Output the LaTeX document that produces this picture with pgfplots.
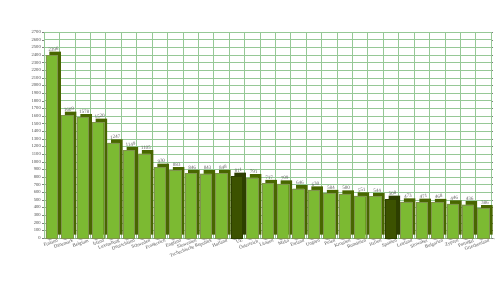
\documentclass[border=0pt]{standalone}
\usepackage{pgfplots}
\pgfplotsset{compat=1.18}
\usepackage{fontspec}
\setmainfont{Liberation Serif}
\definecolor{front}{RGB}{124,186,50}
\definecolor{side}{RGB}{72,102,0}
\definecolor{dfront}{RGB}{60,82,0}
\definecolor{dside}{RGB}{45,62,0}
\definecolor{gridg}{RGB}{150,200,150}
\begin{document}
\begin{tikzpicture}[x=1pt,y=1pt]
\useasboundingbox (0,0) rectangle (495,290);
\begin{axis}[
  at={(44pt,52pt)}, anchor=south west,
  scale only axis, width=447pt, height=206pt,
  xmin=-0.5, xmax=28.5, ymin=0, ymax=2700,
  ybar, bar width=11.5pt, bar shift=0pt,
  axis line style={draw=gray!80},
  xtick={0,...,28},
  xticklabels={Finland,Dänemark,Belgium,Irland,Luxemburg,Deutschland,Schweden,Frankreich,England,Slowenien,Tschechische Republik,Holland,UE,Österreich,Litauen,Malta,Estland,Ungarn,Polen,Kroatien,Rumänien,Italien,Spanien,Lettland,Slowakei,Bulgarien,Zypern,Portugal,Griechenland},
  x tick label style={font=\fontsize{4.8}{5}\selectfont, rotate=20, anchor=north east, text=black!70, inner sep=0.5pt, xshift=6pt},
  ytick={0,100,...,2700},
  y tick label style={font=\fontsize{4.6}{5}\selectfont, text=black!70, inner sep=1pt},
  /pgf/number format/assume math mode=true,
  /pgf/number format/1000 sep={},
  major x tick style={draw=none},
  ytick style={draw=gray},
  tick align=outside, major tick length=2pt,
  clip=false,
]
\pgfplotsinvokeforeach{0,100,...,2700}{\draw[gridg, line width=0.4pt] (axis cs:-0.5,#1) -- (axis cs:28.5,#1);}
\pgfplotsinvokeforeach{-0.5,0.5,...,28.5}{\draw[gridg, line width=0.4pt] (axis cs:#1,0) -- (axis cs:#1,2700);
  \draw[gray] (axis cs:#1,0) -- ++(0,-2pt);}
% depth (side/top)
\addplot[fill=side, draw=none, xshift=3.5pt, yshift=3.5pt] coordinates {
(0,2396)(1,1609)(2,1578)(3,1520)(4,1247)(5,1149)(6,1105)(7,930)(8,883)(9,846)(10,843)(11,848)(13,791)(14,717)(15,709)(16,646)(17,630)(18,584)(19,580)(20,551)(21,544)(23,473)(24,471)(25,468)(26,446)(27,436)(28,386)};
\addplot[fill=dside, draw=none, xshift=3.5pt, yshift=3.5pt] coordinates {(12,811)(22,508)};
% fronts
\addplot[fill=front, draw=side!70, line width=0.3pt,
  nodes near coords, every node near coord/.append style={font=\fontsize{5}{5}\selectfont, text=black!65, inner sep=1pt, xshift=2pt, yshift=3pt, rotate=5}] coordinates {
(0,2396)(1,1609)(2,1578)(3,1520)(4,1247)(5,1149)(6,1105)(7,930)(8,883)(9,846)(10,843)(11,848)(13,791)(14,717)(15,709)(16,646)(17,630)(18,584)(19,580)(20,551)(21,544)(23,473)(24,471)(25,468)(26,446)(27,436)(28,386)};
\addplot[fill=dfront, draw=dside, line width=0.3pt,
  nodes near coords, every node near coord/.append style={font=\fontsize{5}{5}\selectfont, text=black!65, inner sep=1pt, xshift=2pt, yshift=3pt, rotate=5}] coordinates {(12,811)(22,508)};
\end{axis}
\end{tikzpicture}
\end{document}
